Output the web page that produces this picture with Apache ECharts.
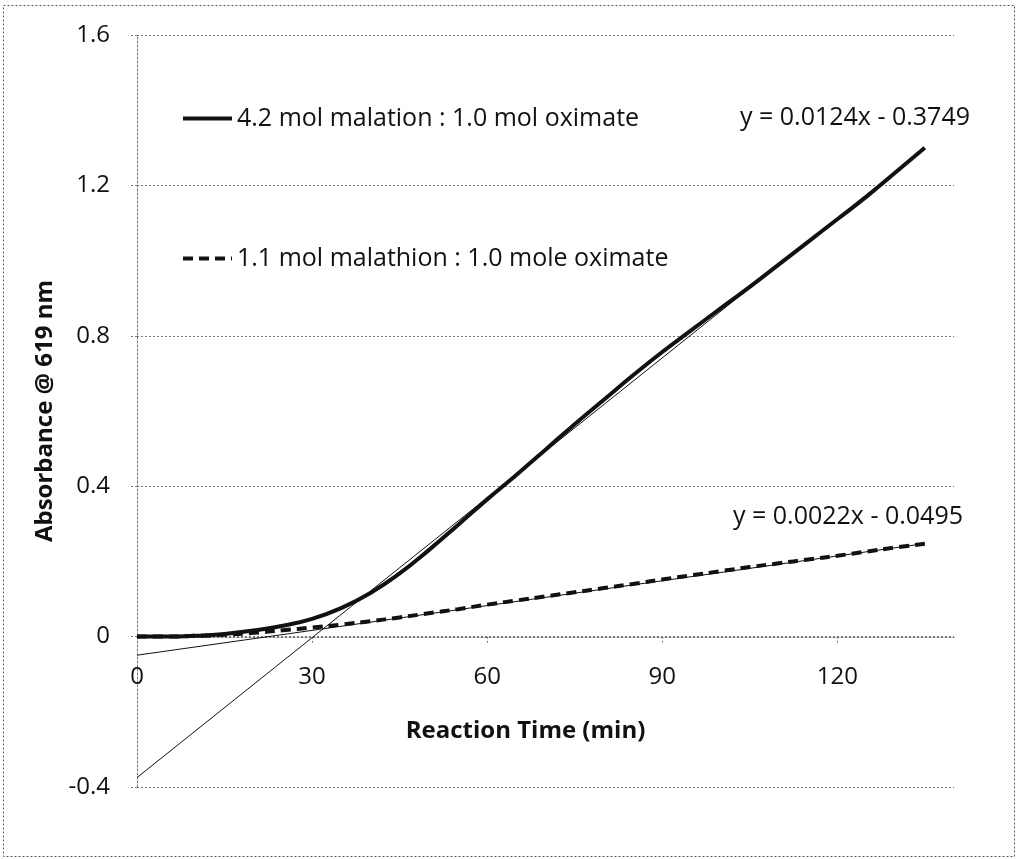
<!DOCTYPE html>
<html>
<head>
<meta charset="utf-8">
<script src="https://cdn.jsdelivr.net/npm/echarts@6/dist/echarts.min.js"></script>
<style>
  html, body { margin: 0; padding: 0; background: #fff; }
  #chart { width: 1018px; height: 859px; }
</style>
</head>
<body>
<div id="chart"></div>
<script>
// reaction time (min)
const timeMin = [0, 5, 10, 15, 20, 25, 30, 35, 40, 45, 50, 55, 60, 65, 70, 75, 80, 85, 90, 95, 100, 105, 110, 115, 120, 125, 130, 135]
// 4.2 mol malation : 1.0 mol oximate
const absHigh = [0, 0, 0.002, 0.007, 0.016, 0.029, 0.047, 0.076, 0.116, 0.168, 0.23, 0.297, 0.365, 0.43, 0.497, 0.565, 0.63, 0.695, 0.757, 0.815, 0.873, 0.93, 0.99, 1.05, 1.11, 1.17, 1.235, 1.3]
// 1.1 mol malathion : 1.0 mole oximate
const absLow = [0, 0, 0.002, 0.005, 0.01, 0.017, 0.024, 0.032, 0.041, 0.051, 0.062, 0.073, 0.085, 0.096, 0.107, 0.118, 0.129, 0.14, 0.152, 0.163, 0.174, 0.185, 0.195, 0.205, 0.215, 0.226, 0.237, 0.247]
// linear trend lines (end points)
const trendHigh = [[0, -0.3749], [135, 1.2991]]
const trendLow = [[0, -0.0495], [135, 0.2475]]

const seriesNames = ['4.2 mol malation : 1.0 mol oximate', '1.1 mol malathion : 1.0 mole oximate']
const equations = ['y = 0.0124x - 0.3749', 'y = 0.0022x - 0.0495']

const font = '"Open Sans", Lato, sans-serif'
const dotted = { color: '#777', width: 1, type: [2, 2] }

const pairs = arr => timeMin.map((t, i) => [t, arr[i]])

const option = {
  backgroundColor: '#fff',
  animation: false,
  textStyle: { fontFamily: font, color: '#111' },
  grid: { left: 137, top: 35, right: 64, bottom: 72 },
  legend: {
    orient: 'vertical',
    left: 181,
    top: 106,
    padding: 0,
    itemGap: 115,
    itemWidth: 49,
    itemHeight: 14,
    data: seriesNames,
    itemStyle: { opacity: 0 },
    lineStyle: { width: 4 },
    textStyle: { fontFamily: font, fontSize: 25, color: '#111' }
  },
  xAxis: {
    type: 'value',
    min: 0,
    max: 140,
    interval: 30,
    // sits on the y = 0 line
    offset: -150.2,
    name: 'Reaction Time (min)',
    nameLocation: 'middle',
    nameGap: 82,
    nameTextStyle: { fontFamily: font, fontSize: 24, fontWeight: 'bold', color: '#111', padding: [0, 40, 0, 0] },
    axisLine: { onZero: false, lineStyle: dotted },
    axisTick: { show: true, length: 7, lineStyle: dotted },
    axisLabel: {
      fontSize: 24,
      color: '#111',
      margin: 28,
      showMaxLabel: false,
      formatter: v => (v % 30 === 0 ? String(v) : '')
    },
    splitLine: { show: false }
  },
  yAxis: {
    type: 'value',
    min: -0.4,
    max: 1.6,
    interval: 0.4,
    name: 'Absorbance @ 619 nm',
    nameLocation: 'middle',
    nameGap: 80,
    nameTextStyle: { fontFamily: font, fontSize: 24, fontWeight: 'bold', color: '#111' },
    axisLine: { show: true, onZero: false, lineStyle: dotted },
    axisTick: { show: true, length: 7, lineStyle: dotted },
    axisLabel: {
      fontSize: 24,
      color: '#111',
      margin: 27,
      formatter: v => (Math.abs(v) < 1e-9 ? '0' : v.toFixed(1))
    },
    splitLine: { show: true, lineStyle: dotted }
  },
  series: [
    {
      name: seriesNames[0],
      type: 'line',
      data: pairs(absHigh),
      smooth: true,
      showSymbol: false,
      symbol: 'none',
      color: '#111',
      lineStyle: { color: '#111', width: 4 },
      z: 3
    },
    {
      name: seriesNames[1],
      type: 'line',
      data: pairs(absLow),
      smooth: true,
      showSymbol: false,
      symbol: 'none',
      color: '#111',
      lineStyle: { color: '#111', width: 4, type: [10, 6] },
      z: 2
    },
    {
      name: 'trend1',
      type: 'line',
      data: trendHigh,
      showSymbol: false,
      symbol: 'none',
      silent: true,
      lineStyle: { color: '#111', width: 1 },
      z: 4
    },
    {
      name: 'trend2',
      type: 'line',
      data: trendLow,
      showSymbol: false,
      symbol: 'none',
      silent: true,
      lineStyle: { color: '#111', width: 1 },
      z: 4
    }
  ],
  graphic: [
    {
      type: 'rect',
      shape: { x: 3.5, y: 5.5, width: 1011, height: 851 },
      style: { fill: null, stroke: '#555', lineWidth: 1, lineDash: [2, 2] },
      silent: true
    },
    {
      type: 'text',
      x: 740,
      y: 118,
      style: { text: equations[0], font: '25px ' + font, fill: '#111', verticalAlign: 'middle' }
    },
    {
      type: 'text',
      x: 733,
      y: 517,
      style: { text: equations[1], font: '25px ' + font, fill: '#111', verticalAlign: 'middle' }
    }
  ]
}

const myChart = echarts.init(document.getElementById('chart'))
myChart.setOption(option, true)
</script>
</body>
</html>
